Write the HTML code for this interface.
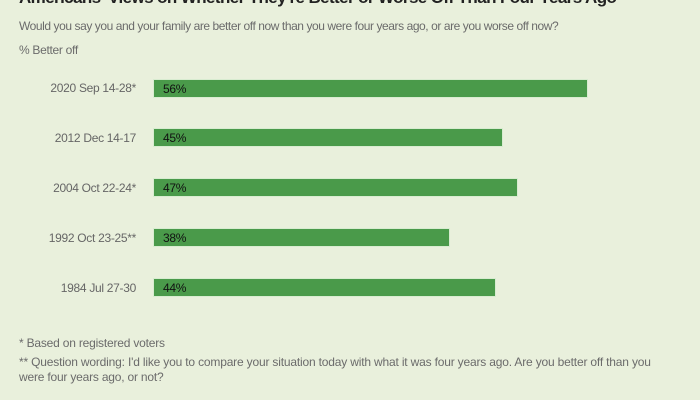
<!DOCTYPE html>
<html><head><style>
body{margin:0;width:700px;height:400px;background:#e9f0dc;font-family:"Liberation Sans",sans-serif;position:relative;overflow:hidden}
div{position:absolute;white-space:nowrap}
.t{left:19px;top:-12px;font-size:17px;font-weight:bold;color:#222;letter-spacing:-0.6px}
.s{color:#6b6b6b;font-size:12px}
.l{right:564px;font-size:12px;color:#666;text-align:right;letter-spacing:-0.3px}
.b{left:153px;height:19px;background:#4a9a4a;border:1px solid #d8ecd0;box-sizing:border-box}
.b span{position:absolute;left:9px;top:2px;font-size:12px;color:#111;letter-spacing:-0.3px}
</style></head><body>
<div class="t">Americans' Views on Whether They're Better or Worse Off Than Four Years Ago</div>
<div class="s" style="left:19px;top:19px;letter-spacing:-0.43px">Would you say you and your family are better off now than you were four years ago, or are you worse off now?</div>
<div class="s" style="left:19px;top:43px;letter-spacing:-0.3px">% Better off</div>
<div class="l" style="top:81px">2020 Sep 14-28*</div>
<div class="b" style="top:79px;width:435px"><span>56%</span></div>
<div class="l" style="top:131px">2012 Dec 14-17</div>
<div class="b" style="top:128px;width:350px"><span>45%</span></div>
<div class="l" style="top:181px">2004 Oct 22-24*</div>
<div class="b" style="top:178px;width:365px"><span>47%</span></div>
<div class="l" style="top:231px">1992 Oct 23-25**</div>
<div class="b" style="top:228px;width:297px"><span>38%</span></div>
<div class="l" style="top:281px">1984 Jul 27-30</div>
<div class="b" style="top:278px;width:343px"><span>44%</span></div>
<div class="s" style="left:19px;top:336px;letter-spacing:-0.2px">* Based on registered voters</div>
<div class="s" style="left:19px;top:355px;letter-spacing:-0.18px">** Question wording: I'd like you to compare your situation today with what it was four years ago. Are you better off than you</div>
<div class="s" style="left:19px;top:370px;letter-spacing:-0.2px">were four years ago, or not?</div>
</body></html>
